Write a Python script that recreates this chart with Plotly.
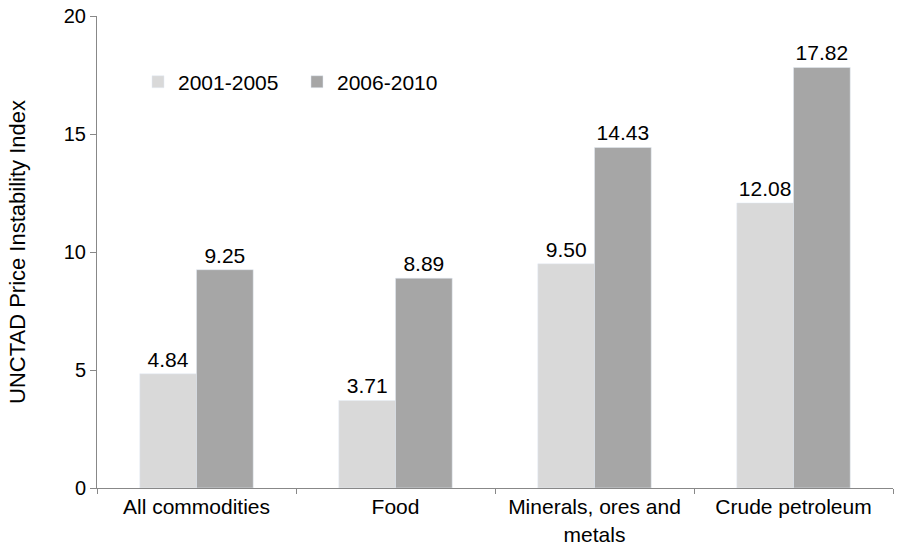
import plotly.graph_objects as go

# Índice de inestabilidad de precios UNCTAD por grupo de materias primas
categorias = ["All commodities", "Food", "Minerals, ores and<br>metals", "Crude petroleum"]
periodo_1 = [4.84, 3.71, 9.50, 12.08]
periodo_2 = [9.25, 8.89, 14.43, 17.82]
nombres = ["2001-2005", "2006-2010"]

fig = go.Figure()
fig.add_trace(go.Bar(
    x=categorias, y=periodo_1, name=nombres[0],
    marker_color="#D9D9D9",
    text=[f"{v:.2f}" for v in periodo_1], textposition="outside",
    textfont=dict(size=21, color="black"), cliponaxis=False,
))
fig.add_trace(go.Bar(
    x=categorias, y=periodo_2, name=nombres[1],
    marker_color="#A6A6A6",
    text=[f"{v:.2f}" for v in periodo_2], textposition="outside",
    textfont=dict(size=21, color="black"), cliponaxis=False,
))

fig.update_layout(
    width=898, height=551,
    paper_bgcolor="white", plot_bgcolor="white",
    font=dict(family="Liberation Sans, Arial, sans-serif", size=20, color="black"),
    margin=dict(l=97, r=5, t=13, b=63),
    barmode="group", bargap=0.43, bargroupgap=0,
    showlegend=True,
    legend=dict(orientation="h", x=0.0515, y=0.86, yanchor="middle",
                font=dict(size=21), itemwidth=30, entrywidth=114,
                entrywidthmode="pixels", bgcolor="rgba(0,0,0,0)"),
)
fig.update_xaxes(
    showline=True, linecolor="#888888", linewidth=1,
    ticks="outside", tickson="boundaries", ticklen=5, tickcolor="#888888",
    showgrid=False, tickfont=dict(size=21),
)
fig.update_yaxes(
    range=[0, 20], dtick=5, showline=True, linecolor="#888888", linewidth=1,
    ticks="outside", ticklen=6, tickcolor="#888888", showgrid=False,
    zeroline=False, tickfont=dict(size=20),
    title=dict(text="UNCTAD Price Instability Index", font=dict(size=22), standoff=32),
)

# quitar el margen por defecto del body para que el gráfico llene la ventana
fig.write_html("out.html", config={"displayModeBar": False},
               post_script="document.body.style.margin='0';")
